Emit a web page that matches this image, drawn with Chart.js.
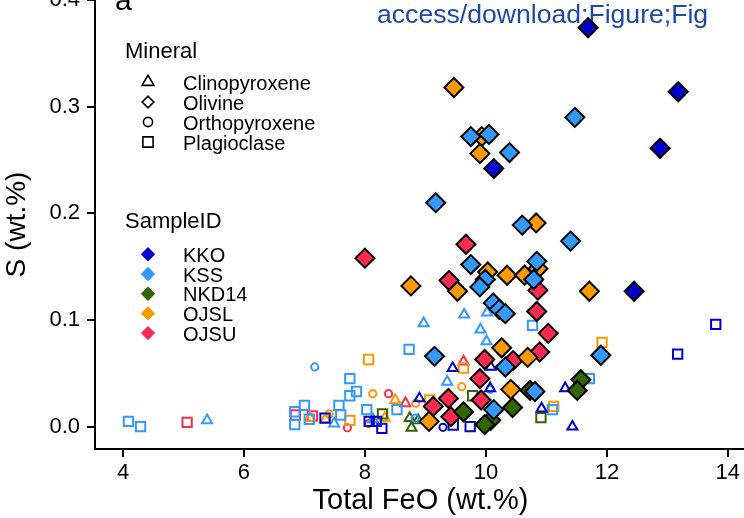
<!DOCTYPE html>
<html>
<head>
<meta charset="utf-8">
<script src="https://cdn.jsdelivr.net/npm/chart.js@4/dist/chart.umd.min.js"></script>
<style>
  html, body { margin: 0; padding: 0; background: #fff; overflow: hidden; width: 744px; height: 518px; }
  #wrap { position: absolute; left: 0; top: -40px; width: 746px; height: 558px; }
</style>
</head>
<body>
<div id="wrap"><canvas id="c" width="746" height="558"></canvas></div>
<script>
// Tick positions
const xTicks = [4, 6, 8, 10, 12, 14];
const yTicks = [0.0, 0.1, 0.2, 0.3, 0.4];

// Sample groups and their colours
const sampleIds = ['KKO', 'KSS', 'NKD14', 'OJSL', 'OJSU'];
const sampleColors = ['#0000cd', '#3399ff', '#336600', '#ff9900', '#ff2a52'];
const minerals = ['Clinopyroxene', 'Olivine', 'Orthopyroxene', 'Plagioclase'];

// [Total FeO wt.%, S wt.%] per sample and mineral
const KKO_olivine = [[11.69,0.374],[13.18,0.314],[12.88,0.261],[10.13,0.242],[12.45,0.127]];
const KSS_olivine = [[11.47,0.290],[9.75,0.272],[10.05,0.274],[10.39,0.257],[9.17,0.210],[10.60,0.189],
  [11.40,0.174],[9.75,0.152],[9.99,0.138],[9.90,0.131],[10.84,0.155],[10.79,0.138],[10.12,0.116],
  [10.22,0.110],[10.32,0.106],[9.15,0.066],[10.32,0.056],[11.90,0.067],[10.81,0.033],[10.13,0.016]];
const NKD14_olivine = [[11.57,0.044],[11.51,0.034],[10.73,0.034],[10.44,0.018],[9.63,0.014],[10.08,0.006],[9.98,0.002]];
const OJSL_olivine = [[9.47,0.318],[9.93,0.272],[9.90,0.256],[10.83,0.191],[10.03,0.145],[10.35,0.142],
  [10.64,0.142],[10.86,0.148],[8.76,0.132],[9.53,0.127],[11.71,0.127],[10.26,0.074],[10.69,0.065],
  [10.41,0.035],[9.06,0.005]];
const OJSU_olivine = [[8.00,0.158],[9.67,0.171],[9.39,0.137],[10.86,0.128],[10.84,0.108],[11.03,0.0875],
  [10.89,0.070],[10.45,0.062],[9.98,0.063],[9.90,0.045],[9.92,0.025],[9.38,0.0265],[9.13,0.019],[9.42,0.0094]];

const KKO_cpx = [[9.45,0.055],[8.90,0.0265],[10.08,0.056],[10.07,0.036],[11.31,0.036],[10.92,0.017],[11.43,0.000]];
const KKO_opx = [[9.29,-0.0006]];
const KKO_plag = [[13.80,0.096],[13.17,0.068],[7.34,0.008],[8.07,0.005],[8.19,0.005],[8.28,-0.0015],[9.46,0.0016],[9.74,0.000]];

const KSS_cpx = [[5.39,0.006],[8.97,0.097],[9.64,0.105],[10.02,0.107],[9.91,0.091],[10.01,0.080],[9.36,0.042],[7.49,0.003],[8.13,0.007]];
const KSS_opx = [[7.17,0.056],[10.07,0.035],[8.83,0.008]];
const KSS_plag = [[4.09,0.005],[4.29,0.000],[8.73,0.0725],[7.75,0.045],[7.86,0.033],[7.75,0.029],[7.00,0.020],
  [7.57,0.020],[8.03,0.016],[6.84,0.014],[6.84,0.002],[7.08,0.007],[7.60,0.011],[8.53,0.016],[10.77,0.095],
  [11.71,0.045],[11.10,0.016]];

const NKD14_cpx = [[8.77,-0.001],[8.74,0.008],[8.88,0.006]];
const NKD14_plag = [[8.29,0.012],[9.78,0.029],[10.91,0.0085]];

const OJSL_cpx = [[7.09,0.008],[7.35,0.007],[8.33,0.008],[8.50,0.025]];
const OJSL_opx = [[8.13,0.031],[7.41,0.012],[9.60,0.0375],[8.84,0.022]];
const OJSL_plag = [[8.06,0.063],[9.63,0.055],[7.75,0.006],[9.07,0.025],[11.92,0.079],[11.12,0.019]];

const OJSU_cpx = [[9.63,0.061],[8.67,0.022]];
const OJSU_opx = [[8.39,0.031],[7.71,-0.001],[8.06,0.003]];
const OJSU_plag = [[5.06,0.004],[6.85,0.011],[7.13,0.010]];

// Marker style per mineral
const markerStyle = {
  Clinopyroxene: { pointStyle: 'triangle', radius: 5.8 },
  Orthopyroxene: { pointStyle: 'circle', radius: 3.6 },
  Plagioclase:   { pointStyle: 'rect', radius: 6.6 },
  Olivine:       { pointStyle: 'rectRot', radius: 9.5 }
};

function toXY(arr) { return arr.map(p => ({ x: p[0], y: p[1] })); }

function hollow(sample, mineral, arr, order) {
  const c = sampleColors[sampleIds.indexOf(sample)];
  const m = markerStyle[mineral];
  return {
    label: sample + ' ' + mineral, data: toXY(arr), order,
    pointStyle: m.pointStyle, pointRadius: m.radius, pointBorderWidth: 2,
    pointBackgroundColor: 'rgba(0,0,0,0)', pointBorderColor: c, showLine: false
  };
}
function filled(sample, arr, order) {
  const c = sampleColors[sampleIds.indexOf(sample)];
  return {
    label: sample + ' Olivine', data: toXY(arr), order,
    pointStyle: 'rectRot', pointRadius: markerStyle.Olivine.radius, pointBorderWidth: 2,
    pointBackgroundColor: c, pointBorderColor: '#000', showLine: false
  };
}

// lower order = drawn on top
const datasets = [
  filled('KKO', KKO_olivine, 1),
  filled('KSS', KSS_olivine, 2),
  filled('NKD14', NKD14_olivine, 3),
  filled('OJSL', OJSL_olivine, 4),
  filled('OJSU', OJSU_olivine, 5),
  hollow('KKO', 'Clinopyroxene', KKO_cpx, 10),
  hollow('KKO', 'Orthopyroxene', KKO_opx, 11),
  hollow('KKO', 'Plagioclase', KKO_plag, 12),
  hollow('KSS', 'Clinopyroxene', KSS_cpx, 13),
  hollow('KSS', 'Orthopyroxene', KSS_opx, 14),
  hollow('KSS', 'Plagioclase', KSS_plag, 15),
  hollow('NKD14', 'Clinopyroxene', NKD14_cpx, 16),
  hollow('NKD14', 'Plagioclase', NKD14_plag, 17),
  hollow('OJSL', 'Clinopyroxene', OJSL_cpx, 18),
  hollow('OJSL', 'Orthopyroxene', OJSL_opx, 19),
  hollow('OJSL', 'Plagioclase', OJSL_plag, 20),
  hollow('OJSU', 'Clinopyroxene', OJSU_cpx, 21),
  hollow('OJSU', 'Orthopyroxene', OJSU_opx, 22),
  hollow('OJSU', 'Plagioclase', OJSU_plag, 23)
];

const FONT = '"Liberation Sans", Arial, Helvetica, sans-serif';
const OFF = 40; // canvas rows hidden above the page

function marker(ctx, style, x, y, r, fill, stroke, lw) {
  ctx.beginPath();
  if (style === 'triangle') {
    for (let i = 0; i < 3; i++) {
      const a = i * 2 * Math.PI / 3;
      const px = x + Math.sin(a) * r, py = y - Math.cos(a) * r;
      i ? ctx.lineTo(px, py) : ctx.moveTo(px, py);
    }
    ctx.closePath();
  } else if (style === 'circle') {
    ctx.arc(x, y, r, 0, Math.PI * 2);
  } else if (style === 'rect') {
    const h = r * Math.SQRT1_2;
    ctx.rect(x - h, y - h, 2 * h, 2 * h);
  } else {
    ctx.moveTo(x, y - r); ctx.lineTo(x + r, y); ctx.lineTo(x, y + r); ctx.lineTo(x - r, y); ctx.closePath();
  }
  if (fill) { ctx.fillStyle = fill; ctx.fill(); }
  if (stroke) { ctx.strokeStyle = stroke; ctx.lineWidth = lw; ctx.stroke(); }
}

const annotations = {
  id: 'annotations',
  beforeDatasetsDraw(chart) {
    const ctx = chart.ctx;
    ctx.save();
    ctx.textBaseline = 'alphabetic';
    ctx.textAlign = 'left';
    ctx.fillStyle = '#000';
    ctx.font = '30px ' + FONT;
    ctx.fillText('a', 115, OFF + 10);
    ctx.fillStyle = '#1f4aa0';
    ctx.font = '26.6px ' + FONT;
    ctx.fillText('access/download;Figure;Fig', 377, OFF + 23);
    ctx.restore();
  },
  afterDraw(chart) {
    const ctx = chart.ctx;
    ctx.save();
    ctx.textAlign = 'left';
    ctx.textBaseline = 'alphabetic';
    ctx.fillStyle = '#000';
    // Mineral shapes
    ctx.font = '22px ' + FONT;
    ctx.fillText('Mineral', 125, OFF + 58);
    const shapeLegend = [['triangle', 6.8], ['rectRot', 5.8], ['circle', 4.6], ['rect', 7.2]];
    minerals.forEach((m, i) => {
      const cy = OFF + 82 + i * 20;
      marker(ctx, shapeLegend[i][0], 148, cy, shapeLegend[i][1], null, '#000', 1.6);
      ctx.fillStyle = '#000';
      ctx.font = '20px ' + FONT;
      ctx.fillText(m, 183, cy + 7.6);
    });
    // Sample colours
    ctx.font = '22px ' + FONT;
    ctx.fillText('SampleID', 125, OFF + 228);
    sampleIds.forEach((s, i) => {
      const cy = OFF + 254.3 + i * 19.7;
      marker(ctx, 'rectRot', 148, cy, 7.2, sampleColors[i], null, 0);
      ctx.fillStyle = '#000';
      ctx.font = '20px ' + FONT;
      ctx.fillText(s, 183, cy + 7.5);
    });
    ctx.restore();
  }
};

new Chart(document.getElementById('c'), {
  type: 'scatter',
  data: { datasets },
  plugins: [annotations],
  options: {
    responsive: false,
    animation: false,
    events: [],
    layout: { autoPadding: false, padding: { top: OFF, left: 0, right: 0, bottom: 0 } },
    plugins: { legend: { display: false }, tooltip: { enabled: false } },
    scales: {
      x: {
        type: 'linear', min: 3.537, max: 14.30,
        afterBuildTicks: s => { s.ticks = xTicks.map(v => ({ value: v })); },
        afterFit: s => { s.height = 69; s.paddingLeft = 0; s.paddingRight = 0; },
        grid: { drawOnChartArea: false, drawTicks: true, tickLength: 8, color: '#000', lineWidth: 2 },
        border: { display: true, color: '#000', width: 2 },
        ticks: { color: '#000', font: { family: FONT, size: 22 }, padding: 3, maxRotation: 0,
                 callback: v => String(v) },
        title: { display: true, text: 'Total FeO (wt.%)', color: '#000',
                 font: { family: FONT, size: 29, lineHeight: 1.2 }, padding: 0 }
      },
      y: {
        type: 'linear', min: -0.0209, max: 0.4,
        afterBuildTicks: s => { s.ticks = yTicks.map(v => ({ value: v })); },
        afterFit: s => { s.width = 95; s.paddingTop = 0; s.paddingBottom = 0; },
        grid: { drawOnChartArea: false, drawTicks: true, tickLength: 8, color: '#000', lineWidth: 2 },
        border: { display: true, color: '#000', width: 2 },
        ticks: { color: '#000', font: { family: FONT, size: 22 }, padding: 7,
                 callback: v => Number(v).toFixed(1) },
        title: { display: true, text: 'S (wt.%)', color: '#000',
                 font: { family: FONT, size: 28, lineHeight: 1.2 }, padding: 0 }
      }
    }
  }
});
</script>
</body>
</html>
